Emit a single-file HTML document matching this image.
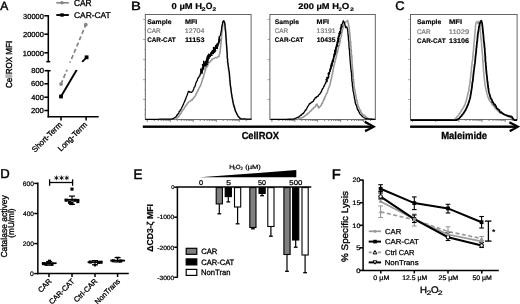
<!DOCTYPE html><html><head><meta charset="utf-8"><style>html,body{margin:0;padding:0;background:#fff;}svg{display:block;filter:blur(0.35px);}text{font-family:"Liberation Sans",sans-serif;text-rendering:geometricPrecision;}</style></head><body>
<svg width="520" height="304" viewBox="0 0 520 304">
<rect width="520" height="304" fill="#fff"/>
<text x="0.30" y="9.60" font-size="12.17" textLength="8.02" lengthAdjust="spacingAndGlyphs" fill="#000" stroke="#000" stroke-width="0.43826086956521737">A</text>
<line x1="56.3" y1="2.8" x2="68.8" y2="2.8" stroke="#858585" stroke-width="1.6"/><circle cx="62" cy="2.8" r="1.7" fill="#858585"/>
<text x="73.98" y="6.00" font-size="9.00" textLength="17.71" lengthAdjust="spacingAndGlyphs" fill="#000" stroke="#000" stroke-width="0.32399999999999995">CAR</text>
<line x1="56.3" y1="15" x2="68.8" y2="15" stroke="#000" stroke-width="1.9"/><rect x="60.3" y="13.3" width="3.4" height="3.4" fill="#000"/>
<text x="73.98" y="17.90" font-size="8.29" textLength="36.79" lengthAdjust="spacingAndGlyphs" fill="#000" stroke="#000" stroke-width="0.2982857142857142">CAR-CAT</text>
<g stroke="#000" stroke-width="1.55" fill="none">
<line x1="48.3" y1="15.1" x2="48.3" y2="61.7"/><line x1="46.3" y1="61.7" x2="50.3" y2="61.7"/>
<line x1="48.3" y1="70.7" x2="48.3" y2="117.5"/><line x1="44.6" y1="70.7" x2="50.6" y2="70.7"/>
<line x1="47.6" y1="116.8" x2="98.7" y2="116.8"/>
<line x1="44.3" y1="15.75" x2="48.3" y2="15.75"/>
<line x1="44.3" y1="34.2" x2="48.3" y2="34.2"/>
<line x1="44.3" y1="52.8" x2="48.3" y2="52.8"/>
<line x1="44.3" y1="83.8" x2="48.3" y2="83.8"/>
<line x1="44.3" y1="97.2" x2="48.3" y2="97.2"/>
<line x1="44.3" y1="110.5" x2="48.3" y2="110.5"/>
<line x1="61" y1="116.8" x2="61" y2="120.4"/><line x1="86.1" y1="116.8" x2="86.1" y2="120.4"/>
</g>
<text x="23.10" y="18.75" font-size="7.29" textLength="20.77" lengthAdjust="spacingAndGlyphs" fill="#000" stroke="#000" stroke-width="0.2622857142857143">30000</text>
<text x="23.03" y="37.20" font-size="7.29" textLength="20.84" lengthAdjust="spacingAndGlyphs" fill="#000" stroke="#000" stroke-width="0.26228571428571434">20000</text>
<text x="22.83" y="55.80" font-size="7.29" textLength="21.04" lengthAdjust="spacingAndGlyphs" fill="#000" stroke="#000" stroke-width="0.26228571428571434">10000</text>
<text x="31.16" y="73.30" font-size="7.29" textLength="12.74" lengthAdjust="spacingAndGlyphs" fill="#000" stroke="#000" stroke-width="0.262285714285714">800</text>
<text x="31.12" y="86.40" font-size="7.29" textLength="12.78" lengthAdjust="spacingAndGlyphs" fill="#000" stroke="#000" stroke-width="0.262285714285714">600</text>
<text x="31.35" y="99.80" font-size="7.29" textLength="12.54" lengthAdjust="spacingAndGlyphs" fill="#000" stroke="#000" stroke-width="0.262285714285714">400</text>
<text x="31.12" y="113.10" font-size="7.29" textLength="12.78" lengthAdjust="spacingAndGlyphs" fill="#000" stroke="#000" stroke-width="0.262285714285714">200</text>
<text transform="translate(11.70,87.60) rotate(-90)" x="-0.40" y="0" font-size="8.69" textLength="47.16" lengthAdjust="spacingAndGlyphs" fill="#000" stroke="#000" stroke-width="0.4">Ce<tspan fill="#9a9a9a" stroke="#9a9a9a">ll</tspan>ROX MFI</text>
<line x1="61" y1="84.1" x2="85.8" y2="24.7" stroke="#858585" stroke-width="1.7" stroke-dasharray="4.2,2.6"/>
<line x1="61" y1="96.4" x2="76.8" y2="69.8" stroke="#000" stroke-width="1.9"/><line x1="82.2" y1="61.8" x2="86.6" y2="57.4" stroke="#000" stroke-width="1.9"/>
<rect x="49.5" y="62.6" width="50" height="7.2" fill="#fff"/>
<circle cx="61" cy="84.1" r="1.9" fill="#858585"/><circle cx="85.8" cy="24.7" r="1.9" fill="#858585"/>
<rect x="59.1" y="94.6" width="3.8" height="3.8" fill="#000"/><rect x="84.7" y="55.4" width="3.8" height="3.8" fill="#000"/>
<text transform="translate(62.6,125.2) rotate(-45)" font-size="7.9" text-anchor="end" stroke="#000" stroke-width="0.3">Short-Term</text>
<text transform="translate(87.7,125.2) rotate(-45)" font-size="7.9" text-anchor="end" stroke="#000" stroke-width="0.3">Long-Term</text>
<rect x="145.3" y="14.5" width="105.79999999999998" height="105.1" fill="none" stroke="#555" stroke-width="0.9"/>
<line x1="143.10000000000002" y1="19.4" x2="145.3" y2="19.4" stroke="#777" stroke-width="0.7"/>
<line x1="143.10000000000002" y1="39.5" x2="145.3" y2="39.5" stroke="#777" stroke-width="0.7"/>
<line x1="143.10000000000002" y1="59.6" x2="145.3" y2="59.6" stroke="#777" stroke-width="0.7"/>
<line x1="143.10000000000002" y1="79.7" x2="145.3" y2="79.7" stroke="#777" stroke-width="0.7"/>
<line x1="143.10000000000002" y1="99.5" x2="145.3" y2="99.5" stroke="#777" stroke-width="0.7"/>
<line x1="144.10000000000002" y1="29.5" x2="145.3" y2="29.5" stroke="#999" stroke-width="0.6"/>
<line x1="144.10000000000002" y1="49.5" x2="145.3" y2="49.5" stroke="#999" stroke-width="0.6"/>
<line x1="144.10000000000002" y1="69.6" x2="145.3" y2="69.6" stroke="#999" stroke-width="0.6"/>
<line x1="144.10000000000002" y1="89.6" x2="145.3" y2="89.6" stroke="#999" stroke-width="0.6"/>
<line x1="144.10000000000002" y1="109.6" x2="145.3" y2="109.6" stroke="#999" stroke-width="0.6"/>
<line x1="144.10000000000002" y1="114.2" x2="145.3" y2="114.2" stroke="#999" stroke-width="0.6"/>
<line x1="147.3" y1="119.6" x2="147.3" y2="122.0" stroke="#555" stroke-width="0.7"/>
<line x1="154.2" y1="119.6" x2="154.2" y2="121.0" stroke="#555" stroke-width="0.7"/>
<line x1="158.3" y1="119.6" x2="158.3" y2="121.0" stroke="#555" stroke-width="0.7"/>
<line x1="161.1" y1="119.6" x2="161.1" y2="121.0" stroke="#555" stroke-width="0.7"/>
<line x1="163.4" y1="119.6" x2="163.4" y2="121.0" stroke="#555" stroke-width="0.7"/>
<line x1="165.2" y1="119.6" x2="165.2" y2="121.0" stroke="#555" stroke-width="0.7"/>
<line x1="166.7" y1="119.6" x2="166.7" y2="121.0" stroke="#555" stroke-width="0.7"/>
<line x1="168.1" y1="119.6" x2="168.1" y2="121.0" stroke="#555" stroke-width="0.7"/>
<line x1="169.2" y1="119.6" x2="169.2" y2="121.0" stroke="#555" stroke-width="0.7"/>
<line x1="170.3" y1="119.6" x2="170.3" y2="122.0" stroke="#555" stroke-width="0.7"/>
<line x1="177.2" y1="119.6" x2="177.2" y2="121.0" stroke="#555" stroke-width="0.7"/>
<line x1="181.3" y1="119.6" x2="181.3" y2="121.0" stroke="#555" stroke-width="0.7"/>
<line x1="184.1" y1="119.6" x2="184.1" y2="121.0" stroke="#555" stroke-width="0.7"/>
<line x1="186.4" y1="119.6" x2="186.4" y2="121.0" stroke="#555" stroke-width="0.7"/>
<line x1="188.2" y1="119.6" x2="188.2" y2="121.0" stroke="#555" stroke-width="0.7"/>
<line x1="189.7" y1="119.6" x2="189.7" y2="121.0" stroke="#555" stroke-width="0.7"/>
<line x1="191.1" y1="119.6" x2="191.1" y2="121.0" stroke="#555" stroke-width="0.7"/>
<line x1="192.2" y1="119.6" x2="192.2" y2="121.0" stroke="#555" stroke-width="0.7"/>
<line x1="193.3" y1="119.6" x2="193.3" y2="122.0" stroke="#555" stroke-width="0.7"/>
<line x1="200.2" y1="119.6" x2="200.2" y2="121.0" stroke="#555" stroke-width="0.7"/>
<line x1="204.3" y1="119.6" x2="204.3" y2="121.0" stroke="#555" stroke-width="0.7"/>
<line x1="207.1" y1="119.6" x2="207.1" y2="121.0" stroke="#555" stroke-width="0.7"/>
<line x1="209.4" y1="119.6" x2="209.4" y2="121.0" stroke="#555" stroke-width="0.7"/>
<line x1="211.2" y1="119.6" x2="211.2" y2="121.0" stroke="#555" stroke-width="0.7"/>
<line x1="212.7" y1="119.6" x2="212.7" y2="121.0" stroke="#555" stroke-width="0.7"/>
<line x1="214.1" y1="119.6" x2="214.1" y2="121.0" stroke="#555" stroke-width="0.7"/>
<line x1="215.2" y1="119.6" x2="215.2" y2="121.0" stroke="#555" stroke-width="0.7"/>
<line x1="216.3" y1="119.6" x2="216.3" y2="122.0" stroke="#555" stroke-width="0.7"/>
<line x1="223.2" y1="119.6" x2="223.2" y2="121.0" stroke="#555" stroke-width="0.7"/>
<line x1="227.3" y1="119.6" x2="227.3" y2="121.0" stroke="#555" stroke-width="0.7"/>
<line x1="230.1" y1="119.6" x2="230.1" y2="121.0" stroke="#555" stroke-width="0.7"/>
<line x1="232.4" y1="119.6" x2="232.4" y2="121.0" stroke="#555" stroke-width="0.7"/>
<line x1="234.2" y1="119.6" x2="234.2" y2="121.0" stroke="#555" stroke-width="0.7"/>
<line x1="235.7" y1="119.6" x2="235.7" y2="121.0" stroke="#555" stroke-width="0.7"/>
<line x1="237.1" y1="119.6" x2="237.1" y2="121.0" stroke="#555" stroke-width="0.7"/>
<line x1="238.2" y1="119.6" x2="238.2" y2="121.0" stroke="#555" stroke-width="0.7"/>
<line x1="239.3" y1="119.6" x2="239.3" y2="122.0" stroke="#555" stroke-width="0.7"/>
<line x1="246.2" y1="119.6" x2="246.2" y2="121.0" stroke="#555" stroke-width="0.7"/>
<rect x="269.9" y="14.5" width="105.40000000000003" height="105.1" fill="none" stroke="#555" stroke-width="0.9"/>
<line x1="267.7" y1="19.4" x2="269.9" y2="19.4" stroke="#777" stroke-width="0.7"/>
<line x1="267.7" y1="39.5" x2="269.9" y2="39.5" stroke="#777" stroke-width="0.7"/>
<line x1="267.7" y1="59.6" x2="269.9" y2="59.6" stroke="#777" stroke-width="0.7"/>
<line x1="267.7" y1="79.7" x2="269.9" y2="79.7" stroke="#777" stroke-width="0.7"/>
<line x1="267.7" y1="99.5" x2="269.9" y2="99.5" stroke="#777" stroke-width="0.7"/>
<line x1="268.7" y1="29.5" x2="269.9" y2="29.5" stroke="#999" stroke-width="0.6"/>
<line x1="268.7" y1="49.5" x2="269.9" y2="49.5" stroke="#999" stroke-width="0.6"/>
<line x1="268.7" y1="69.6" x2="269.9" y2="69.6" stroke="#999" stroke-width="0.6"/>
<line x1="268.7" y1="89.6" x2="269.9" y2="89.6" stroke="#999" stroke-width="0.6"/>
<line x1="268.7" y1="109.6" x2="269.9" y2="109.6" stroke="#999" stroke-width="0.6"/>
<line x1="268.7" y1="114.2" x2="269.9" y2="114.2" stroke="#999" stroke-width="0.6"/>
<line x1="271.9" y1="119.6" x2="271.9" y2="122.0" stroke="#555" stroke-width="0.7"/>
<line x1="278.8" y1="119.6" x2="278.8" y2="121.0" stroke="#555" stroke-width="0.7"/>
<line x1="282.8" y1="119.6" x2="282.8" y2="121.0" stroke="#555" stroke-width="0.7"/>
<line x1="285.7" y1="119.6" x2="285.7" y2="121.0" stroke="#555" stroke-width="0.7"/>
<line x1="287.9" y1="119.6" x2="287.9" y2="121.0" stroke="#555" stroke-width="0.7"/>
<line x1="289.7" y1="119.6" x2="289.7" y2="121.0" stroke="#555" stroke-width="0.7"/>
<line x1="291.3" y1="119.6" x2="291.3" y2="121.0" stroke="#555" stroke-width="0.7"/>
<line x1="292.6" y1="119.6" x2="292.6" y2="121.0" stroke="#555" stroke-width="0.7"/>
<line x1="293.8" y1="119.6" x2="293.8" y2="121.0" stroke="#555" stroke-width="0.7"/>
<line x1="294.8" y1="119.6" x2="294.8" y2="122.0" stroke="#555" stroke-width="0.7"/>
<line x1="301.7" y1="119.6" x2="301.7" y2="121.0" stroke="#555" stroke-width="0.7"/>
<line x1="305.7" y1="119.6" x2="305.7" y2="121.0" stroke="#555" stroke-width="0.7"/>
<line x1="308.6" y1="119.6" x2="308.6" y2="121.0" stroke="#555" stroke-width="0.7"/>
<line x1="310.8" y1="119.6" x2="310.8" y2="121.0" stroke="#555" stroke-width="0.7"/>
<line x1="312.6" y1="119.6" x2="312.6" y2="121.0" stroke="#555" stroke-width="0.7"/>
<line x1="314.2" y1="119.6" x2="314.2" y2="121.0" stroke="#555" stroke-width="0.7"/>
<line x1="315.5" y1="119.6" x2="315.5" y2="121.0" stroke="#555" stroke-width="0.7"/>
<line x1="316.7" y1="119.6" x2="316.7" y2="121.0" stroke="#555" stroke-width="0.7"/>
<line x1="317.7" y1="119.6" x2="317.7" y2="122.0" stroke="#555" stroke-width="0.7"/>
<line x1="324.6" y1="119.6" x2="324.6" y2="121.0" stroke="#555" stroke-width="0.7"/>
<line x1="328.7" y1="119.6" x2="328.7" y2="121.0" stroke="#555" stroke-width="0.7"/>
<line x1="331.5" y1="119.6" x2="331.5" y2="121.0" stroke="#555" stroke-width="0.7"/>
<line x1="333.7" y1="119.6" x2="333.7" y2="121.0" stroke="#555" stroke-width="0.7"/>
<line x1="335.6" y1="119.6" x2="335.6" y2="121.0" stroke="#555" stroke-width="0.7"/>
<line x1="337.1" y1="119.6" x2="337.1" y2="121.0" stroke="#555" stroke-width="0.7"/>
<line x1="338.4" y1="119.6" x2="338.4" y2="121.0" stroke="#555" stroke-width="0.7"/>
<line x1="339.6" y1="119.6" x2="339.6" y2="121.0" stroke="#555" stroke-width="0.7"/>
<line x1="340.6" y1="119.6" x2="340.6" y2="122.0" stroke="#555" stroke-width="0.7"/>
<line x1="347.5" y1="119.6" x2="347.5" y2="121.0" stroke="#555" stroke-width="0.7"/>
<line x1="351.6" y1="119.6" x2="351.6" y2="121.0" stroke="#555" stroke-width="0.7"/>
<line x1="354.4" y1="119.6" x2="354.4" y2="121.0" stroke="#555" stroke-width="0.7"/>
<line x1="356.7" y1="119.6" x2="356.7" y2="121.0" stroke="#555" stroke-width="0.7"/>
<line x1="358.5" y1="119.6" x2="358.5" y2="121.0" stroke="#555" stroke-width="0.7"/>
<line x1="360.0" y1="119.6" x2="360.0" y2="121.0" stroke="#555" stroke-width="0.7"/>
<line x1="361.3" y1="119.6" x2="361.3" y2="121.0" stroke="#555" stroke-width="0.7"/>
<line x1="362.5" y1="119.6" x2="362.5" y2="121.0" stroke="#555" stroke-width="0.7"/>
<line x1="363.6" y1="119.6" x2="363.6" y2="122.0" stroke="#555" stroke-width="0.7"/>
<line x1="370.4" y1="119.6" x2="370.4" y2="121.0" stroke="#555" stroke-width="0.7"/>
<rect x="410.5" y="14.5" width="106.60000000000002" height="105.1" fill="none" stroke="#555" stroke-width="0.9"/>
<line x1="408.3" y1="19.4" x2="410.5" y2="19.4" stroke="#777" stroke-width="0.7"/>
<line x1="408.3" y1="39.5" x2="410.5" y2="39.5" stroke="#777" stroke-width="0.7"/>
<line x1="408.3" y1="59.6" x2="410.5" y2="59.6" stroke="#777" stroke-width="0.7"/>
<line x1="408.3" y1="79.7" x2="410.5" y2="79.7" stroke="#777" stroke-width="0.7"/>
<line x1="408.3" y1="99.5" x2="410.5" y2="99.5" stroke="#777" stroke-width="0.7"/>
<line x1="409.3" y1="29.5" x2="410.5" y2="29.5" stroke="#999" stroke-width="0.6"/>
<line x1="409.3" y1="49.5" x2="410.5" y2="49.5" stroke="#999" stroke-width="0.6"/>
<line x1="409.3" y1="69.6" x2="410.5" y2="69.6" stroke="#999" stroke-width="0.6"/>
<line x1="409.3" y1="89.6" x2="410.5" y2="89.6" stroke="#999" stroke-width="0.6"/>
<line x1="409.3" y1="109.6" x2="410.5" y2="109.6" stroke="#999" stroke-width="0.6"/>
<line x1="409.3" y1="114.2" x2="410.5" y2="114.2" stroke="#999" stroke-width="0.6"/>
<line x1="412.5" y1="119.6" x2="412.5" y2="122.0" stroke="#555" stroke-width="0.7"/>
<line x1="419.5" y1="119.6" x2="419.5" y2="121.0" stroke="#555" stroke-width="0.7"/>
<line x1="423.6" y1="119.6" x2="423.6" y2="121.0" stroke="#555" stroke-width="0.7"/>
<line x1="426.5" y1="119.6" x2="426.5" y2="121.0" stroke="#555" stroke-width="0.7"/>
<line x1="428.7" y1="119.6" x2="428.7" y2="121.0" stroke="#555" stroke-width="0.7"/>
<line x1="430.5" y1="119.6" x2="430.5" y2="121.0" stroke="#555" stroke-width="0.7"/>
<line x1="432.1" y1="119.6" x2="432.1" y2="121.0" stroke="#555" stroke-width="0.7"/>
<line x1="433.4" y1="119.6" x2="433.4" y2="121.0" stroke="#555" stroke-width="0.7"/>
<line x1="434.6" y1="119.6" x2="434.6" y2="121.0" stroke="#555" stroke-width="0.7"/>
<line x1="435.7" y1="119.6" x2="435.7" y2="122.0" stroke="#555" stroke-width="0.7"/>
<line x1="442.6" y1="119.6" x2="442.6" y2="121.0" stroke="#555" stroke-width="0.7"/>
<line x1="446.7" y1="119.6" x2="446.7" y2="121.0" stroke="#555" stroke-width="0.7"/>
<line x1="449.6" y1="119.6" x2="449.6" y2="121.0" stroke="#555" stroke-width="0.7"/>
<line x1="451.9" y1="119.6" x2="451.9" y2="121.0" stroke="#555" stroke-width="0.7"/>
<line x1="453.7" y1="119.6" x2="453.7" y2="121.0" stroke="#555" stroke-width="0.7"/>
<line x1="455.3" y1="119.6" x2="455.3" y2="121.0" stroke="#555" stroke-width="0.7"/>
<line x1="456.6" y1="119.6" x2="456.6" y2="121.0" stroke="#555" stroke-width="0.7"/>
<line x1="457.8" y1="119.6" x2="457.8" y2="121.0" stroke="#555" stroke-width="0.7"/>
<line x1="458.8" y1="119.6" x2="458.8" y2="122.0" stroke="#555" stroke-width="0.7"/>
<line x1="465.8" y1="119.6" x2="465.8" y2="121.0" stroke="#555" stroke-width="0.7"/>
<line x1="469.9" y1="119.6" x2="469.9" y2="121.0" stroke="#555" stroke-width="0.7"/>
<line x1="472.8" y1="119.6" x2="472.8" y2="121.0" stroke="#555" stroke-width="0.7"/>
<line x1="475.0" y1="119.6" x2="475.0" y2="121.0" stroke="#555" stroke-width="0.7"/>
<line x1="476.9" y1="119.6" x2="476.9" y2="121.0" stroke="#555" stroke-width="0.7"/>
<line x1="478.4" y1="119.6" x2="478.4" y2="121.0" stroke="#555" stroke-width="0.7"/>
<line x1="479.8" y1="119.6" x2="479.8" y2="121.0" stroke="#555" stroke-width="0.7"/>
<line x1="481.0" y1="119.6" x2="481.0" y2="121.0" stroke="#555" stroke-width="0.7"/>
<line x1="482.0" y1="119.6" x2="482.0" y2="122.0" stroke="#555" stroke-width="0.7"/>
<line x1="489.0" y1="119.6" x2="489.0" y2="121.0" stroke="#555" stroke-width="0.7"/>
<line x1="493.1" y1="119.6" x2="493.1" y2="121.0" stroke="#555" stroke-width="0.7"/>
<line x1="496.0" y1="119.6" x2="496.0" y2="121.0" stroke="#555" stroke-width="0.7"/>
<line x1="498.2" y1="119.6" x2="498.2" y2="121.0" stroke="#555" stroke-width="0.7"/>
<line x1="500.1" y1="119.6" x2="500.1" y2="121.0" stroke="#555" stroke-width="0.7"/>
<line x1="501.6" y1="119.6" x2="501.6" y2="121.0" stroke="#555" stroke-width="0.7"/>
<line x1="502.9" y1="119.6" x2="502.9" y2="121.0" stroke="#555" stroke-width="0.7"/>
<line x1="504.1" y1="119.6" x2="504.1" y2="121.0" stroke="#555" stroke-width="0.7"/>
<line x1="505.2" y1="119.6" x2="505.2" y2="122.0" stroke="#555" stroke-width="0.7"/>
<line x1="512.2" y1="119.6" x2="512.2" y2="121.0" stroke="#555" stroke-width="0.7"/>
<text x="131.12" y="9.90" font-size="12.03" textLength="9.85" lengthAdjust="spacingAndGlyphs" fill="#000" stroke="#000" stroke-width="0.4330434782608696">B</text>
<text x="395.15" y="9.90" font-size="12.61" textLength="9.33" lengthAdjust="spacingAndGlyphs" fill="#000" stroke="#000" stroke-width="0.45391304347826095">C</text>
<text x="171.62" y="8.55" font-size="8.50" textLength="30.52" lengthAdjust="spacingAndGlyphs" font-weight="bold" fill="#000" stroke="#000" stroke-width="0.18700000000000003">0 µM H</text>
<text x="201.54" y="10.60" font-size="5.29" textLength="4.06" lengthAdjust="spacingAndGlyphs" font-weight="bold" fill="#000" stroke="#000" stroke-width="0.11628571428571426">2</text>
<text x="205.85" y="8.70" font-size="9.13" textLength="6.71" lengthAdjust="spacingAndGlyphs" font-weight="bold" fill="#000" stroke="#000" stroke-width="0.2008695652173913">O</text>
<text x="212.57" y="10.90" font-size="5.29" textLength="3.71" lengthAdjust="spacingAndGlyphs" font-weight="bold" fill="#000" stroke="#000" stroke-width="0.1162857142857143">2</text>
<text x="298.37" y="8.65" font-size="8.21" textLength="40.54" lengthAdjust="spacingAndGlyphs" font-weight="bold" fill="#000" stroke="#000" stroke-width="0.18071428571428572">200 µM H</text>
<text x="338.54" y="11.10" font-size="5.14" textLength="3.30" lengthAdjust="spacingAndGlyphs" font-weight="bold" fill="#000" stroke="#000" stroke-width="0.11314285714285713">2</text>
<text x="341.71" y="8.80" font-size="8.70" textLength="7.50" lengthAdjust="spacingAndGlyphs" font-weight="bold" fill="#000" stroke="#000" stroke-width="0.19130434782608696">O</text>
<text x="350.05" y="11.30" font-size="5.14" textLength="3.94" lengthAdjust="spacingAndGlyphs" font-weight="bold" fill="#000" stroke="#000" stroke-width="0.11314285714285717">2</text>
<text x="147.19" y="23.80" font-size="6.67" textLength="24.36" lengthAdjust="spacingAndGlyphs" font-weight="bold" fill="#000" stroke="#000" stroke-width="0.14666666666666672">Sample</text>
<text x="184.93" y="23.80" font-size="6.67" textLength="12.34" lengthAdjust="spacingAndGlyphs" font-weight="bold" fill="#000" stroke="#000" stroke-width="0.14666666666666672">MFI</text>
<text x="147.07" y="33.20" font-size="6.67" textLength="13.73" lengthAdjust="spacingAndGlyphs" fill="#7c7c7c" stroke="#7c7c7c" stroke-width="0.2400000000000001">CAR</text>
<text x="184.87" y="33.20" font-size="6.67" textLength="19.54" lengthAdjust="spacingAndGlyphs" fill="#7c7c7c" stroke="#7c7c7c" stroke-width="0.2400000000000001">12704</text>
<text x="147.15" y="42.40" font-size="6.67" textLength="28.52" lengthAdjust="spacingAndGlyphs" font-weight="bold" fill="#000" stroke="#000" stroke-width="0.14666666666666672">CAR-CAT</text>
<text x="184.96" y="42.40" font-size="6.67" textLength="19.50" lengthAdjust="spacingAndGlyphs" font-weight="bold" fill="#000" stroke="#000" stroke-width="0.14666666666666672">11153</text>
<text x="274.80" y="23.80" font-size="6.67" textLength="24.16" lengthAdjust="spacingAndGlyphs" font-weight="bold" fill="#000" stroke="#000" stroke-width="0.14666666666666672">Sample</text>
<text x="316.63" y="23.80" font-size="6.67" textLength="12.45" lengthAdjust="spacingAndGlyphs" font-weight="bold" fill="#000" stroke="#000" stroke-width="0.14666666666666672">MFI</text>
<text x="274.68" y="33.20" font-size="6.67" textLength="13.52" lengthAdjust="spacingAndGlyphs" fill="#7c7c7c" stroke="#7c7c7c" stroke-width="0.2400000000000001">CAR</text>
<text x="316.59" y="33.20" font-size="6.67" textLength="19.03" lengthAdjust="spacingAndGlyphs" fill="#7c7c7c" stroke="#7c7c7c" stroke-width="0.2400000000000001">13191</text>
<text x="274.74" y="42.40" font-size="6.67" textLength="28.62" lengthAdjust="spacingAndGlyphs" font-weight="bold" fill="#000" stroke="#000" stroke-width="0.14666666666666672">CAR-CAT</text>
<text x="316.69" y="42.40" font-size="6.67" textLength="18.78" lengthAdjust="spacingAndGlyphs" font-weight="bold" fill="#000" stroke="#000" stroke-width="0.14666666666666672">10435</text>
<text x="417.10" y="24.30" font-size="6.67" textLength="24.16" lengthAdjust="spacingAndGlyphs" font-weight="bold" fill="#000" stroke="#000" stroke-width="0.14666666666666672">Sample</text>
<text x="448.91" y="24.30" font-size="6.67" textLength="13.10" lengthAdjust="spacingAndGlyphs" font-weight="bold" fill="#000" stroke="#000" stroke-width="0.14666666666666672">MFI</text>
<text x="416.98" y="33.70" font-size="6.67" textLength="13.62" lengthAdjust="spacingAndGlyphs" fill="#7c7c7c" stroke="#7c7c7c" stroke-width="0.2400000000000001">CAR</text>
<text x="448.84" y="33.70" font-size="6.67" textLength="20.31" lengthAdjust="spacingAndGlyphs" fill="#7c7c7c" stroke="#7c7c7c" stroke-width="0.2400000000000001">11029</text>
<text x="417.04" y="42.90" font-size="6.67" textLength="28.62" lengthAdjust="spacingAndGlyphs" font-weight="bold" fill="#000" stroke="#000" stroke-width="0.14666666666666672">CAR-CAT</text>
<text x="448.97" y="42.90" font-size="6.67" textLength="20.09" lengthAdjust="spacingAndGlyphs" font-weight="bold" fill="#000" stroke="#000" stroke-width="0.14666666666666672">13106</text>
<polyline points="174.80,119.40 175.68,118.80 176.55,118.20 177.43,117.60 178.30,117.00 178.87,116.15 179.30,115.61 180.09,114.23 180.57,113.55 181.19,113.01 181.55,111.48 182.39,110.99 182.93,109.75 183.38,109.55 183.87,108.90 184.68,107.23 184.93,106.84 185.82,105.98 186.13,105.30 186.63,104.40 187.34,103.93 187.84,102.97 188.40,102.46 189.27,101.42 190.32,101.25 191.10,100.27 192.08,100.22 192.35,99.03 193.15,98.66 193.81,97.68 194.35,97.19 194.75,96.40 195.54,95.91 195.82,94.83 196.07,93.67 196.76,92.97 196.95,92.24 197.56,91.51 197.85,90.45 198.34,89.90 198.77,88.70 199.20,87.53 199.47,87.28 200.24,86.33 200.46,85.10 200.84,84.81 201.28,83.40 201.65,82.10 201.86,81.73 202.23,80.26 202.40,79.48 202.93,78.12 203.15,77.99 203.47,77.05 203.73,75.98 203.92,75.03 204.03,74.46 204.50,72.89 204.76,72.17 204.99,71.08 205.34,70.35 205.65,69.23 205.73,68.06 206.27,67.54 207.00,66.90 207.46,66.08 207.75,65.27 208.38,63.76 208.63,62.86 209.56,62.36 209.99,61.98 210.74,60.76 211.34,60.46 212.01,59.51 212.88,58.96 213.71,58.60 214.58,58.15 215.70,57.59 216.56,57.86 217.90,56.74 219.14,56.79 219.10,55.14 219.32,54.84 219.49,53.90 219.85,52.83 219.86,52.29 220.24,50.94 220.20,50.13 220.36,49.12 220.42,48.22 220.42,46.97 220.84,46.54 220.69,45.57 220.79,44.70 221.04,43.27 220.95,41.96 221.27,41.03 221.34,40.92 221.35,39.25 221.55,39.03 221.58,37.66 221.56,36.56 221.58,35.95 221.74,34.61 221.71,34.12 221.86,33.07 221.95,32.49 222.24,30.82 222.08,30.19 222.44,29.69 222.29,28.27 222.50,27.92 222.67,26.57 222.74,25.97 222.79,25.26 222.90,24.04 223.05,22.56 223.55,21.62 223.69,20.99 224.72,21.78 224.69,22.70 225.02,23.97 225.19,25.21 225.04,25.89 225.17,26.41 225.30,28.14 225.70,29.10 225.60,29.83 225.82,30.55 225.80,31.34 225.68,32.31 226.03,33.51 226.11,34.34 225.93,35.56 226.19,35.80 226.19,36.80 226.05,38.44 226.08,38.79 226.48,39.88 226.23,40.58 226.33,42.03 226.34,43.11 226.50,44.09 226.75,44.41 226.56,45.51 226.56,46.60 226.59,46.95 226.99,48.13 226.90,49.20 226.85,49.78 227.12,51.53 227.19,51.69 226.97,53.07 227.30,53.93 227.25,54.97 227.15,55.79 227.22,56.45 227.19,57.41 227.57,58.49 227.50,59.60 227.66,60.30 227.55,61.18 227.66,62.57 227.99,63.01 227.90,64.16 228.11,65.14 228.10,65.55 228.22,66.53 228.44,67.46 228.39,68.90 228.58,69.97 228.77,70.96 228.76,71.57 229.11,72.12 229.25,73.17 229.28,74.86 229.39,75.22 229.23,76.36 229.61,77.12 229.70,77.95 229.79,78.81 229.67,80.56 229.94,81.52 230.05,82.34 230.08,82.79 230.08,83.73 230.28,85.15 230.24,85.52 230.63,87.11 230.62,87.79 230.86,88.62 230.83,89.44 230.91,90.07 231.19,91.34 231.29,91.94 231.35,92.92 231.40,93.95 231.79,94.99 231.76,96.10 231.88,96.46 232.17,97.80 232.39,98.64 232.59,99.81 232.61,100.50 232.87,101.15 233.03,102.35 233.39,103.58 233.34,104.23 233.44,104.61 233.90,106.28 234.08,107.13 234.64,107.66 234.87,109.09 235.05,109.90 235.49,110.74 235.83,111.96 236.28,112.46 236.42,112.98 236.85,114.06 237.46,114.40 237.85,115.80 238.20,116.40 238.90,117.05 239.60,117.70 240.30,118.35 241.00,119.00" fill="none" stroke="#999" stroke-width="1.6" stroke-linejoin="round"/>
<polyline points="145.50,119.30 145.95,119.30 146.41,119.30 146.86,119.29 147.31,119.29 147.77,119.29 148.22,119.29 148.68,119.29 149.13,119.29 149.58,119.28 150.04,119.28 150.49,119.28 150.94,119.28 151.40,119.28 151.85,119.27 152.31,119.27 152.76,119.27 153.21,119.27 153.67,119.27 154.12,119.26 154.57,119.26 155.03,119.26 155.48,119.26 155.94,119.26 156.39,119.26 156.84,119.25 157.30,119.25 157.75,119.25 158.20,119.25 158.66,119.25 159.11,119.24 159.56,119.24 160.02,119.24 160.47,119.24 160.93,119.24 161.38,119.24 161.83,119.23 162.29,119.23 162.74,119.23 163.19,119.23 163.65,119.23 164.10,119.22 164.56,119.22 165.01,119.22 165.46,119.22 165.92,119.22 166.37,119.21 166.82,119.21 167.28,119.21 167.73,119.21 168.19,119.21 168.64,119.21 169.09,119.20 169.55,119.20 170.00,119.20 170.52,119.12 171.03,119.03 171.55,118.95 172.07,118.87 172.58,118.78 173.10,118.70 173.53,118.42 173.97,118.13 174.40,117.85 174.83,117.57 175.27,117.28 175.70,117.00 175.99,116.62 176.28,116.24 176.71,116.22 176.71,115.16 177.25,115.30 177.49,114.58 177.76,114.44 178.04,113.70 178.28,113.51 178.60,113.60 178.90,112.85 178.96,112.24 179.06,111.66 179.43,111.50 179.63,111.57 179.90,110.91 180.03,110.09 180.29,109.79 180.58,110.09 180.86,109.05 181.14,109.11 181.31,108.78 181.53,108.26 181.62,107.98 182.03,106.90 182.18,106.92 182.30,106.35 182.53,106.24 182.75,105.74 182.92,105.36 183.31,104.59 183.42,104.54 183.65,103.76 183.67,103.20 184.00,102.65 184.24,102.30 184.42,101.90 184.62,101.79 184.65,101.21 184.88,100.84 184.95,100.11 185.19,100.26 185.40,99.15 185.65,99.24 185.85,98.38 185.98,97.85 186.13,97.59 186.17,97.64 186.31,96.93 186.73,96.28 186.71,96.35 186.96,95.79 187.01,95.08 187.24,94.90 187.39,94.69 187.55,94.08 187.71,93.20 188.12,92.63 188.08,92.55 188.30,91.53 188.66,91.12 188.80,91.53 189.44,92.09 189.84,91.87 190.38,92.06 191.19,92.39 191.65,92.20 192.07,91.96 192.37,91.38 192.85,91.25 192.84,90.93 193.26,90.24 193.34,90.02 193.48,89.40 193.80,89.06 193.85,88.76 193.84,88.44 194.04,87.61 194.18,87.26 194.37,87.21 194.67,87.06 194.98,86.64 194.92,85.77 195.10,85.45 195.39,85.19 195.59,84.33 195.67,84.11 195.70,83.29 196.00,82.92 196.27,82.59 196.24,82.12 196.45,81.71 196.72,81.48 196.82,81.19 196.96,80.98 197.37,80.40 197.37,79.80 197.59,79.00 197.70,78.95 197.80,78.18 198.28,77.98 198.47,78.00 198.79,77.08 199.19,76.73 199.16,76.56 199.47,75.84 199.92,75.71 199.87,75.11 200.21,74.71 200.36,74.37 200.53,73.70 200.83,73.80 200.07,74.55 200.56,73.03 201.15,71.93 202.13,71.07 200.73,68.98 200.74,72.90 202.20,73.11 202.44,67.05 202.47,71.11 202.74,68.99 201.97,68.29 203.15,66.71 202.61,67.52 203.76,69.03 203.82,68.77 202.41,64.69 203.12,64.48 203.23,66.62 204.65,65.69 204.66,62.38 203.80,67.41 203.55,63.55 203.61,61.19 205.85,66.23 205.59,61.40 205.08,62.36 206.31,65.39 205.88,63.98 205.22,63.63 207.36,64.45 205.44,62.56 207.05,60.54 207.61,61.31 207.27,60.50 208.10,62.32 207.22,58.03 207.03,56.88 207.52,61.53 206.65,58.84 207.50,57.75 208.18,60.48 208.29,57.23 209.16,56.01 208.89,57.60 209.18,58.39 208.14,56.63 208.82,56.53 210.45,55.96 208.38,54.56 210.31,56.70 210.49,55.98 209.31,56.43 211.35,54.09 212.11,55.44 210.51,54.71 212.44,50.70 212.86,52.77 212.01,53.83 212.36,52.42 213.54,50.02 214.11,50.93 213.49,53.55 213.42,47.39 214.67,52.02 215.33,51.15 215.16,50.30 215.05,47.48 215.71,45.67 214.91,49.59 215.36,49.13 217.05,46.63 217.01,48.49 217.68,44.14 216.22,45.19 217.17,44.24 216.30,45.38 218.82,43.80 217.92,43.45 217.83,45.93 217.64,44.16 218.19,43.05 219.36,39.84 219.28,40.76 218.98,43.26 219.13,40.40 219.72,38.16 219.35,39.49 219.23,41.79 219.99,39.99 218.95,37.16 219.43,36.69 219.13,40.59 218.86,39.29 219.62,36.11 219.98,36.12 220.15,35.73 220.27,35.37 220.55,35.42 220.53,34.73 220.81,34.02 220.67,33.49 220.77,33.38 220.89,32.66 221.09,32.11 221.17,31.97 221.10,31.66 221.15,31.24 221.40,30.48 221.39,30.38 221.48,29.76 221.58,29.45 221.61,29.02 221.53,28.28 221.72,27.61 221.70,27.00 221.95,26.68 221.88,26.67 221.88,26.28 221.95,25.09 222.12,24.91 222.39,24.88 222.43,24.08 222.45,23.47 222.63,23.15 222.55,22.90 222.60,22.20 222.94,21.58 223.02,21.33 223.39,21.17 223.72,20.77 223.86,21.12 224.12,21.63 224.19,22.40 224.23,22.33 224.63,22.99 224.75,23.18 224.81,24.18 224.79,24.56 224.92,24.72 225.08,25.16 224.96,25.80 224.95,26.42 225.08,26.67 225.10,27.44 225.29,27.77 225.16,27.88 225.22,28.04 225.13,29.25 225.18,29.65 225.40,30.08 225.25,30.04 225.52,30.26 225.34,30.98 225.40,31.27 225.60,31.67 225.74,32.57 225.49,33.22 225.59,33.34 225.74,33.51 225.76,33.90 225.70,35.03 225.94,35.18 225.92,35.92 225.78,36.07 225.82,36.23 225.84,36.77 225.86,37.23 225.99,38.02 226.18,38.70 226.17,38.85 226.27,39.03 226.04,40.01 226.24,39.99 226.19,40.52 226.24,41.08 226.27,41.84 226.43,42.11 226.36,42.35 226.48,43.37 226.35,43.60 226.53,44.03 226.35,44.40 226.44,44.58 226.59,45.40 226.64,45.93 226.70,46.18 226.52,46.88 226.80,47.39 226.76,47.21 226.67,47.73 226.84,48.54 226.73,49.32 227.01,49.74 226.88,49.71 226.83,50.60 227.01,50.62 227.11,51.32 226.98,51.65 227.11,52.14 227.12,52.34 227.16,52.92 227.26,53.33 227.11,54.05 227.16,54.50 227.36,54.70 227.34,55.55 227.37,55.82 227.30,56.20 227.33,56.58 227.27,57.22 227.30,57.68 227.45,58.01 227.35,58.70 227.61,58.86 227.56,59.67 227.67,60.15 227.52,60.23 227.72,60.76 227.48,61.68 227.57,61.69 227.64,62.10 227.84,62.62 227.83,63.14 228.02,63.26 228.02,63.81 227.95,64.64 228.10,64.65 228.24,65.78 228.33,65.90 228.45,66.68 228.32,66.64 228.65,67.59 228.48,67.86 228.77,68.22 228.78,68.62 228.71,68.82 228.72,69.63 228.82,70.05 228.97,70.35 229.23,70.76 229.15,71.20 229.14,71.53 229.31,72.45 229.21,73.01 229.43,72.75 229.48,73.49 229.45,73.70 229.49,74.49 229.61,75.00 229.62,75.58 229.51,75.46 229.63,76.00 229.56,76.61 229.72,77.30 229.79,78.02 229.65,78.17 229.69,78.71 229.84,78.75 229.83,79.62 229.92,80.30 229.92,80.27 230.14,80.94 229.91,81.54 230.03,82.12 230.16,82.47 230.28,82.69 230.34,82.75 230.17,83.86 230.11,84.18 230.46,84.67 230.48,84.63 230.44,85.51 230.47,85.83 230.65,86.08 230.47,86.89 230.83,87.54 230.80,87.58 230.94,87.84 230.79,88.90 231.06,89.06 231.13,89.29 231.09,89.72 231.04,90.28 231.03,90.92 231.25,91.28 231.37,91.56 231.39,92.40 231.41,93.18 231.39,93.25 231.56,93.67 231.79,94.29 231.71,94.65 231.76,95.52 231.97,95.74 231.85,96.16 231.92,96.42 231.97,97.16 232.36,97.57 232.32,97.72 232.36,98.35 232.44,98.66 232.46,99.50 232.78,100.02 232.76,99.84 232.74,100.95 233.04,101.18 233.00,101.75 232.98,102.23 233.10,102.80 233.22,103.11 233.33,103.47 233.39,104.26 233.61,104.28 233.65,105.11 233.85,105.35 234.05,105.37 234.06,106.22 234.14,106.93 234.42,106.92 234.44,107.66 234.59,107.78 234.75,108.22 234.66,108.91 234.95,109.15 235.02,110.06 235.25,110.04 235.41,110.61 235.37,111.12 235.70,111.74 235.87,111.98 235.99,111.91 236.22,112.39 236.58,113.01 236.68,113.74 236.76,114.24 237.01,114.06 237.31,114.75 237.62,115.21 237.56,115.29 237.90,116.10 238.22,116.44 238.55,116.77 238.88,117.11 239.20,117.45 239.53,117.79 239.85,118.12 240.18,118.46 240.50,118.80 240.96,118.82 241.43,118.83 241.89,118.85 242.35,118.87 242.81,118.88 243.28,118.90 243.74,118.92 244.20,118.93 244.66,118.95 245.12,118.97 245.59,118.98 246.05,119.00 246.51,119.02 246.97,119.03 247.44,119.05 247.90,119.07 248.36,119.08 248.82,119.10 249.29,119.12 249.75,119.13 250.21,119.15 250.67,119.17 251.14,119.18 251.60,119.20" fill="none" stroke="#000" stroke-width="1.25" stroke-linejoin="round"/>
<polyline points="202.90,66.30 203.15,66.50 203.74,64.01 202.97,64.51 203.68,65.83 204.63,64.56 204.71,64.37 204.33,63.06 204.86,65.42 205.19,65.58 205.36,64.55 205.91,62.93 206.85,60.90 205.74,63.99 206.59,60.20 207.49,63.13 206.23,60.54 206.40,59.61 207.32,58.52 207.57,57.58 206.87,60.14 207.37,58.06 207.82,57.80 207.62,55.52 208.45,58.84 209.13,57.20 208.43,55.57 209.25,56.38 208.61,54.20 209.30,54.87 210.30,54.40 209.45,55.31 210.49,53.72 210.56,52.97 211.22,53.97 211.16,52.70 211.76,53.03 212.01,51.11 212.98,52.30 212.98,51.34 213.52,50.20 214.23,52.48 214.53,52.04 214.31,51.48 214.91,48.11 215.81,50.58 214.91,47.57 216.38,47.38 215.79,45.56 215.71,47.51 217.47,48.54 216.96,44.16 216.92,46.72 217.98,45.65 217.27,44.71 217.81,44.61 217.62,45.39 218.78,41.75 217.97,44.09 218.10,43.88 218.62,42.38 219.08,39.96 218.90,40.60" fill="none" stroke="#000" stroke-width="1.2" stroke-linejoin="round"/>
<polyline points="329.90,71.20 329.79,71.17 330.38,71.09 330.00,68.98 330.10,68.46 330.86,67.70 330.79,67.41 330.69,67.47 331.39,67.42 330.68,66.05 330.96,67.09 331.79,66.42 331.95,65.75 332.22,65.37 331.65,65.01 332.03,64.23 332.25,62.86 332.19,62.33 332.28,60.99 332.95,62.23 333.26,61.42 332.96,61.05 332.66,60.37 333.13,58.57 333.02,58.98 333.21,58.32 333.72,57.66 333.37,57.42 333.62,56.26 333.73,56.11 333.74,56.36 334.80,55.18 334.70,56.10 334.14,53.55 335.08,54.87 335.04,52.62 334.91,53.96 335.50,53.29 334.89,52.92 335.17,52.06 335.02,52.23 335.61,51.08 335.30,50.30 335.78,49.74 335.65,49.59 335.73,47.97 335.71,48.49 335.82,46.81 335.94,47.41 336.61,46.66 336.23,45.91 336.71,44.52 336.52,46.38 336.81,44.08 337.06,44.36 336.96,43.54 337.36,43.99 337.09,42.20 337.70,43.36 337.82,41.58 338.08,40.63 337.51,40.67 338.53,40.79 337.95,40.16 338.66,38.56 338.49,38.32 338.26,37.65 338.34,37.32 338.29,36.95 338.47,37.40 339.13,34.94 339.43,34.93 339.25,35.39 339.23,34.20 339.46,33.31 340.03,32.75 340.11,32.54 339.70,32.48 339.54,31.31 340.01,31.64 340.67,32.57 340.40,30.80" fill="none" stroke="#000" stroke-width="1.1" stroke-linejoin="round"/>
<polyline points="297.20,119.40 298.09,119.07 298.97,118.74 299.86,118.41 300.74,118.09 301.63,117.76 302.51,117.43 303.40,117.10 304.20,116.50 304.91,115.94 305.75,115.39 306.65,114.31 307.22,114.40 308.00,113.18 308.95,112.71 309.57,112.03 310.18,111.05 310.87,111.01 311.51,110.22 312.34,108.93 313.14,108.73 313.75,107.55 314.73,107.28 315.18,106.79 315.68,105.98 316.06,105.02 316.58,104.29 317.16,104.36 317.31,105.29 318.03,106.30 318.33,107.00 318.70,107.90 319.25,107.26 319.93,106.72 320.57,105.93 321.23,105.16 321.76,103.60 322.27,103.45 322.73,102.22 323.11,101.03 323.59,100.48 323.84,99.15 324.48,99.11 324.65,98.07 325.16,96.59 325.50,96.24 326.10,94.69 326.39,93.79 326.82,93.15 327.26,92.83 327.51,91.95 327.83,90.22 328.22,89.31 328.36,88.77 328.80,87.68 328.88,87.45 329.26,86.66 329.76,85.26 329.89,84.52 330.17,83.67 330.37,82.79 330.73,81.77 330.76,81.05 330.92,79.77 331.41,79.05 331.47,77.68 331.65,77.28 331.73,76.40 332.13,74.99 332.31,74.45 332.51,73.44 332.70,72.88 332.64,71.36 333.05,71.26 333.08,69.90 333.39,68.87 333.49,67.95 333.67,67.30 333.83,66.19 334.22,64.96 334.37,64.68 334.50,63.30 334.90,62.40 334.90,61.66 335.31,60.45 335.40,59.74 335.80,58.92 336.04,57.76 336.07,57.28 336.49,56.19 336.48,54.97 336.81,54.12 337.14,53.80 337.15,52.39 337.60,51.80 337.83,50.63 337.82,49.67 338.29,48.75 338.36,47.97 338.62,47.06 339.03,45.92 338.93,45.72 339.48,44.85 339.55,43.91 339.95,42.35 340.07,42.01 340.22,40.84 340.27,39.78 340.43,38.65 340.74,37.95 341.00,36.85 341.22,36.54 341.41,35.83 341.58,34.65 341.44,33.91 341.68,32.62 342.07,31.94 342.19,31.44 342.47,30.02 342.56,29.61 342.85,28.67 343.01,27.26 343.29,26.94 343.37,26.04 343.85,25.18 344.32,23.71 344.75,23.73 345.04,22.44 345.62,21.92 346.67,21.38 347.80,20.45 347.77,21.55 348.03,22.48 348.57,24.17 348.48,24.84 348.80,25.65 349.05,26.93 349.22,27.60 349.17,28.50 349.23,29.64 349.53,30.41 349.39,31.16 349.58,32.47 349.82,33.20 349.91,34.35 349.87,35.05 349.98,36.28 350.04,37.20 350.14,37.72 350.26,39.06 350.18,39.74 350.40,41.08 350.67,41.56 350.74,42.86 350.59,43.50 350.61,44.76 350.88,45.76 351.00,46.50 351.05,47.34 350.90,48.30 350.94,48.84 351.29,49.68 351.12,50.67 351.47,51.68 351.24,53.21 351.35,54.15 351.62,55.08 351.79,55.79 351.81,56.24 351.88,57.60 351.93,58.17 352.02,59.85 351.84,60.24 352.08,61.66 352.03,62.03 352.09,63.38 352.33,64.14 352.25,65.11 352.31,66.09 352.27,67.12 352.65,68.00 352.63,68.73 352.67,70.23 352.75,70.92 352.77,71.93 353.01,72.38 352.81,73.82 353.20,74.52 353.12,75.60 353.12,76.09 353.21,77.28 353.34,77.86 353.57,79.41 353.52,80.08 353.65,81.12 353.80,81.49 353.76,82.17 353.94,83.39 353.92,84.27 354.07,85.55 354.09,86.64 354.30,87.19 354.39,88.30 354.69,88.97 354.74,90.03 355.05,90.66 355.18,92.08 355.26,92.34 355.35,93.70 355.69,94.83 355.93,95.10 355.86,96.03 356.04,97.35 356.45,98.44 356.41,99.33 356.66,99.82 357.03,100.41 357.02,101.97 357.31,102.43 357.64,103.60 357.66,104.18 358.03,105.21 358.17,106.19 358.66,106.90 358.93,107.49 359.25,108.82 359.61,109.85 360.31,109.97 360.74,111.05 361.10,112.23 361.58,112.93 362.36,113.83 362.87,114.55 363.77,115.26 364.43,115.37 365.24,116.34 366.06,116.96 366.88,117.58 367.70,118.20 368.77,118.45 369.85,118.70 370.93,118.95 372.00,119.20" fill="none" stroke="#999" stroke-width="1.6" stroke-linejoin="round"/>
<polyline points="270.50,119.30 271.00,119.30 271.50,119.30 272.00,119.30 272.50,119.30 273.00,119.30 273.50,119.30 274.00,119.30 274.50,119.30 275.00,119.30 275.50,119.30 276.00,119.30 276.50,119.30 277.00,119.30 277.50,119.30 278.00,119.30 278.50,119.30 279.00,119.30 279.50,119.30 280.00,119.30 280.50,119.30 281.00,119.30 281.50,119.30 282.00,119.30 282.50,119.30 283.00,119.30 283.50,119.30 284.00,119.30 284.50,119.30 285.00,119.30 285.51,119.29 286.02,119.29 286.54,119.28 287.05,119.28 287.56,119.27 288.07,119.26 288.59,119.26 289.10,119.25 289.61,119.24 290.12,119.24 290.64,119.23 291.15,119.22 291.66,119.22 292.18,119.21 292.69,119.21 293.20,119.20 293.67,119.01 294.14,118.82 294.61,118.62 295.08,118.43 295.55,118.24 296.02,118.05 296.48,117.85 296.95,117.66 297.42,117.47 297.89,117.28 298.36,117.08 298.83,116.89 299.30,116.70 299.71,116.34 300.04,115.66 300.50,115.34 300.80,115.18 301.48,115.14 301.84,114.32 302.18,114.00 302.48,113.50 302.90,113.80 303.51,113.35 303.80,112.44 303.94,112.38 304.37,112.15 304.72,111.13 304.93,111.19 305.20,110.38 305.49,109.90 305.94,110.11 306.12,109.25 306.53,109.06 306.80,108.81 306.97,108.00 307.28,107.55 307.42,106.99 307.91,106.32 307.95,106.32 308.30,105.78 308.65,105.17 309.10,104.58 309.19,104.13 309.54,103.72 309.90,103.80 310.33,103.35 310.96,102.68 311.13,102.48 311.80,102.49 312.07,101.96 312.50,101.77 312.74,101.53 313.30,101.31 313.53,100.88 313.59,99.92 314.18,99.88 314.29,99.58 314.64,99.05 315.03,98.05 315.58,97.51 316.09,97.89 316.60,96.86 317.03,96.71 317.79,96.59 317.93,95.98 318.45,95.84 318.51,95.15 318.76,94.83 319.26,94.42 319.35,94.29 319.72,94.30 319.98,93.52 320.49,93.03 320.86,92.68 320.86,92.15 321.03,91.68 321.33,91.58 321.76,90.79 321.74,90.12 322.05,89.60 322.28,89.66 322.49,88.53 322.98,88.46 323.24,87.85 323.45,87.58 323.65,87.17 323.80,86.17 323.93,86.34 324.37,85.93 324.41,85.26 324.78,84.79 325.01,84.24 325.18,83.92 325.28,83.65 325.72,82.52 325.95,82.77 326.04,81.57 326.69,80.28 326.97,81.54 326.00,79.48 326.93,80.30 327.26,80.99 326.78,77.57 327.87,77.13 328.00,77.00 328.11,78.67 328.38,77.46 328.55,75.84 328.45,75.74 328.90,76.65 328.53,75.35 328.13,73.27 329.02,74.21 329.53,74.09 328.77,72.79 329.74,72.80 328.94,73.30 330.15,70.38 329.96,70.82 330.41,70.09 329.84,70.14 330.93,68.38 329.98,69.56 331.11,68.70 330.67,69.30 331.25,66.26 331.53,66.17 330.93,67.71 331.23,67.08 331.05,66.82 331.20,63.99 331.75,64.09 331.95,65.39 332.31,61.99 331.94,63.19 332.31,63.20 332.45,60.63 332.29,62.57 332.57,61.78 333.52,60.81 333.27,60.26 332.95,60.74 333.29,60.24 333.22,59.60 333.98,58.30 333.68,56.29 334.25,56.51 334.25,55.28 333.65,54.82 334.72,54.44 334.99,54.57 334.71,54.01 334.91,52.69 334.78,54.90 334.59,53.49 334.88,51.86 334.59,50.46 335.88,52.56 335.79,51.98 336.08,49.41 335.71,49.98 335.79,50.90 336.13,50.50 335.41,48.98 336.29,48.80 336.38,48.59 336.14,48.41 336.43,46.87 337.22,46.71 336.63,44.71 336.82,45.49 337.84,45.88 337.17,43.79 337.81,42.92 337.39,41.57 337.20,42.76 337.95,42.51 337.63,43.09 338.06,40.06 337.45,42.18 338.72,41.52 338.33,39.08 337.78,38.42 338.04,40.07 339.03,39.10 338.20,36.88 338.52,38.65 338.47,37.65 339.26,36.38 339.74,34.98 339.31,34.15 338.88,33.25 339.29,33.05 339.09,35.34 339.50,34.52 340.16,33.52 340.22,33.73 340.63,32.49 340.35,31.91 340.69,30.97 340.53,29.20 341.09,29.76 340.22,28.26 341.38,28.04 340.89,28.91 341.61,27.29 341.13,27.10 340.80,28.06 340.91,27.83 341.21,24.76 342.22,26.40 341.56,25.05 342.02,24.56 342.05,24.15 342.43,23.56 342.53,23.25 342.59,22.68 342.96,21.97 342.95,21.50 343.43,20.74 343.58,21.72 343.80,21.53 344.04,22.20 344.35,23.03 344.41,23.72 344.74,23.77 344.93,24.70 345.08,25.18 345.13,25.52 345.23,25.87 345.48,26.22 345.32,27.00 345.57,27.35 345.73,27.60 346.10,26.96 346.79,27.13 346.89,26.99 347.10,28.06 347.08,27.90 347.31,28.90 347.36,28.91 347.52,29.43 347.57,30.02 347.66,31.11 347.83,31.57 347.74,31.74 347.89,31.97 347.88,33.24 348.04,33.67 347.95,34.05 348.16,34.57 348.10,34.67 348.02,35.75 348.36,35.78 348.36,36.40 348.37,37.26 348.33,37.60 348.36,38.03 348.34,38.35 348.47,39.38 348.48,39.78 348.52,40.47 348.59,40.27 348.64,41.46 348.83,41.93 348.81,41.82 348.80,42.61 349.04,42.89 348.84,43.94 348.84,44.55 348.93,44.74 349.08,45.53 348.93,45.99 349.00,46.40 348.99,46.95 349.08,47.01 349.07,47.62 349.20,48.65 349.33,48.67 349.49,49.03 349.28,50.16 349.55,50.46 349.59,50.47 349.61,51.50 349.57,52.12 349.43,52.12 349.47,52.85 349.64,53.41 349.62,54.08 349.81,54.61 349.59,54.64 349.69,55.23 349.84,55.71 349.90,56.34 349.85,57.15 350.08,57.26 349.93,58.41 349.92,58.16 349.95,59.32 350.17,59.92 350.13,59.72 350.11,60.78 350.17,60.84 350.21,61.61 350.24,62.12 350.21,62.30 350.46,63.38 350.38,63.40 350.38,64.28 350.61,64.73 350.67,65.29 350.46,65.87 350.63,66.38 350.74,66.45 350.71,67.61 350.68,67.54 350.75,68.27 350.90,68.83 351.02,69.25 351.00,70.20 351.12,70.96 351.31,70.93 351.18,71.69 351.31,72.09 351.46,72.47 351.37,72.92 351.55,73.81 351.62,73.96 351.58,74.84 351.41,75.53 351.71,75.45 351.77,76.53 351.71,76.85 351.64,76.97 351.75,78.13 351.71,78.33 351.77,79.02 352.03,79.69 351.86,79.82 351.81,80.42 352.12,81.19 351.91,81.37 351.96,81.88 352.27,82.28 352.29,83.33 352.32,83.24 352.39,84.33 352.46,84.11 352.22,84.84 352.46,85.46 352.39,86.14 352.65,86.64 352.68,87.09 352.81,87.21 352.80,87.78 352.77,88.79 352.92,88.96 352.98,89.67 353.00,90.22 353.06,90.98 353.17,91.34 353.36,91.58 353.36,92.04 353.58,92.68 353.59,92.97 353.69,93.42 353.72,94.31 353.81,94.76 353.92,94.97 354.15,95.87 354.17,96.60 354.18,96.62 354.24,97.12 354.34,97.63 354.41,98.27 354.53,98.69 354.75,99.16 354.92,100.06 354.85,100.61 354.90,100.53 355.26,100.99 355.04,102.17 355.14,102.51 355.42,102.68 355.49,103.78 355.70,103.71 355.88,104.61 356.00,104.60 356.33,105.12 356.26,105.55 356.72,106.41 356.81,107.01 357.05,107.35 357.02,108.13 357.07,108.38 357.48,109.06 357.65,109.80 357.88,110.08 358.12,110.02 358.36,110.57 358.50,111.08 358.78,111.67 359.23,112.36 359.52,112.45 359.70,113.36 359.87,113.83 360.11,114.24 360.70,114.68 361.02,114.87 361.23,115.27 361.71,115.56 361.96,116.24 362.26,116.30 362.60,116.70 363.03,116.97 363.46,117.24 363.89,117.51 364.31,117.79 364.74,118.06 365.17,118.33 365.60,118.60 366.11,118.67 366.62,118.75 367.14,118.83 367.65,118.90 368.16,118.97 368.68,119.05 369.19,119.12 369.70,119.20 370.21,119.21 370.72,119.22 371.23,119.23 371.74,119.24 372.25,119.25 372.75,119.25 373.26,119.26 373.77,119.27 374.28,119.28 374.79,119.29 375.30,119.30" fill="none" stroke="#000" stroke-width="1.3" stroke-linejoin="round"/>
<polyline points="452.00,120.00 453.20,119.90 454.40,119.80 455.10,119.00 455.80,118.20 456.50,117.40 457.20,116.60 457.78,116.04 458.37,115.45 458.90,114.71 459.24,113.66 460.04,113.06 460.57,111.96 460.99,111.32 461.47,110.78 461.79,109.75 462.33,109.47 462.92,108.16 463.40,107.37 463.81,106.59 464.10,106.33 464.62,105.10 465.14,104.62 465.24,103.75 465.61,102.61 465.82,101.86 466.25,100.94 466.61,99.53 466.76,98.50 467.00,97.50 467.26,96.94 467.38,96.06 467.69,94.87 468.03,94.05 468.10,93.12 468.42,91.89 468.71,90.93 468.86,90.57 468.87,89.60 469.09,88.51 469.12,87.20 469.30,86.90 469.44,85.82 469.77,85.01 469.74,83.66 469.92,83.01 469.93,82.05 470.25,81.19 470.17,80.31 470.29,78.95 470.53,78.41 470.56,77.48 470.71,76.11 470.75,75.07 470.78,74.11 471.05,73.77 471.01,72.16 471.34,71.56 471.27,70.42 471.41,69.90 471.45,68.68 471.43,68.09 471.50,66.86 471.81,65.67 471.86,65.31 471.97,64.26 471.95,63.07 472.09,62.41 472.26,61.20 472.58,60.53 472.70,59.31 472.70,58.56 472.78,57.32 472.84,56.29 472.91,55.95 473.16,54.77 473.11,53.64 473.08,52.66 473.36,52.15 473.32,51.16 473.52,50.17 473.57,49.29 473.57,48.32 473.63,47.24 473.85,46.45 473.80,45.70 473.98,44.52 473.88,43.56 474.03,42.72 474.17,41.91 474.30,40.98 474.29,39.96 474.48,39.17 474.45,38.27 474.68,37.25 474.78,36.52 474.73,35.31 474.71,34.61 475.01,33.44 475.02,32.70 475.11,31.40 475.20,30.77 475.25,29.74 475.35,29.01 475.47,27.98 475.41,26.60 475.64,25.96 475.69,25.00 475.92,23.57 475.99,22.71 477.08,21.64 477.65,22.68 478.11,23.57 478.52,22.82 478.90,21.96 479.13,21.18 479.19,21.82 479.40,22.80 479.49,24.08 479.70,24.51 479.90,25.53 480.01,26.69 480.10,28.11 480.24,28.72 480.31,29.86 480.26,30.50 480.40,31.78 480.58,33.05 480.56,33.61 480.71,34.35 480.58,35.65 480.81,36.25 480.91,37.67 480.93,38.25 480.98,39.05 481.28,40.02 481.37,41.29 481.35,41.73 481.55,42.80 481.49,43.57 481.74,44.59 481.62,45.53 481.64,46.59 481.81,47.31 481.98,48.63 481.84,49.37 481.99,50.60 482.20,51.07 482.13,51.96 482.41,53.01 482.38,54.08 482.47,55.12 482.57,55.73 482.64,56.79 482.64,57.75 482.64,58.82 482.76,59.64 482.90,60.73 482.77,61.43 482.95,62.82 483.14,63.50 482.96,64.59 483.15,65.39 483.29,66.36 483.29,67.49 483.33,68.06 483.53,68.85 483.44,70.23 483.47,71.16 483.73,71.79 483.70,72.96 483.96,73.43 483.93,74.63 484.02,75.40 484.01,76.50 484.28,77.06 484.20,78.50 484.45,79.31 484.32,80.28 484.67,81.39 484.68,81.64 484.81,82.68 484.84,84.12 485.05,84.47 485.12,85.95 485.27,86.67 485.54,87.28 485.78,88.13 485.83,89.30 486.01,90.00 486.34,91.41 486.62,91.91 486.68,92.97 487.07,94.04 487.51,94.90 487.60,96.07 487.97,96.96 488.42,98.10 488.77,98.84 489.03,99.74 489.56,100.68 490.16,101.04 490.61,102.01 491.28,102.68 491.80,103.81 492.16,104.62 492.69,105.04 493.46,105.83 494.17,106.72 494.65,107.66 495.20,108.32 495.84,108.64 496.73,109.73 497.20,109.97 498.09,111.00 498.73,111.27 499.35,112.06 499.93,112.68 501.03,113.12 501.97,113.40 503.09,114.18 504.09,114.45 505.10,114.96 506.03,115.45 507.07,115.78 508.00,116.30 508.80,116.74 509.60,117.18 510.40,117.62 511.20,118.06 512.00,118.50 513.00,118.93 514.00,119.37 515.00,119.80" fill="none" stroke="#a0a0a0" stroke-width="1.6" stroke-linejoin="round"/>
<polyline points="410.50,120.10 411.42,120.10 412.33,120.10 413.25,120.10 414.16,120.10 415.08,120.10 416.00,120.10 416.91,120.10 417.83,120.10 418.74,120.10 419.66,120.10 420.58,120.10 421.49,120.10 422.41,120.10 423.32,120.10 424.24,120.10 425.16,120.10 426.07,120.10 426.99,120.10 427.90,120.10 428.82,120.10 429.74,120.10 430.65,120.10 431.57,120.10 432.48,120.10 433.40,120.10 434.32,120.10 435.23,120.10 436.15,120.10 437.06,120.10 437.98,120.10 438.90,120.10 439.81,120.10 440.73,120.10 441.64,120.10 442.56,120.10 443.48,120.10 444.39,120.10 445.31,120.10 446.22,120.10 447.14,120.10 448.06,120.10 448.97,120.10 449.89,120.10 450.80,120.10 451.72,120.10 452.64,120.10 453.55,120.10 454.47,120.10 455.38,120.10 456.30,120.10 457.23,119.57 458.17,119.03 459.10,118.50 459.72,117.78 460.33,117.07 460.95,116.35 461.63,115.79 462.18,114.80 462.70,114.28 463.35,113.49 463.89,112.66 464.43,111.83 465.09,110.80 465.61,110.09 465.95,109.10 466.49,108.03 466.90,107.31 467.33,106.20 467.59,105.51 468.15,104.40 468.42,103.35 468.78,102.45 469.10,101.66 469.21,100.75 469.50,99.94 469.87,98.79 470.07,97.94 470.36,97.14 470.37,95.89 470.65,94.93 470.81,93.88 471.03,93.16 471.04,92.29 471.24,91.12 471.43,90.16 471.54,89.58 471.76,88.22 471.90,87.28 471.93,86.78 472.10,85.54 472.18,84.64 472.25,84.01 472.35,82.78 472.61,81.83 472.78,80.81 472.90,80.20 472.95,79.26 473.01,78.29 473.20,77.20 473.24,76.35 473.34,75.11 473.52,74.26 473.59,73.58 473.63,72.26 473.74,71.61 473.90,70.50 474.03,69.90 474.10,68.71 474.34,67.87 474.33,66.86 474.48,65.76 474.58,64.90 474.78,63.99 474.87,63.40 475.04,62.18 475.10,61.23 475.18,60.39 475.35,59.70 475.34,58.31 475.47,57.42 475.48,56.86 475.59,55.91 475.73,55.10 475.92,53.74 475.89,53.26 476.06,52.08 476.19,51.36 476.23,50.26 476.24,49.29 476.34,48.50 476.53,47.34 476.63,46.40 476.61,45.75 476.78,44.96 476.91,43.94 476.90,43.09 476.98,42.06 477.24,41.28 477.33,40.14 477.39,39.39 477.37,38.54 477.62,37.37 477.68,36.45 477.68,35.67 477.73,34.79 478.00,33.61 478.09,32.59 478.23,31.80 478.41,30.99 478.56,29.90 478.56,29.40 478.83,28.37 478.87,27.30 479.09,26.35 479.38,25.81 479.53,24.89 479.57,23.69 480.18,22.71 480.68,21.88 481.20,20.69 481.56,21.91 482.01,22.91 482.12,23.69 482.21,24.73 482.35,25.46 482.41,26.53 482.64,27.36 482.58,28.21 482.68,29.24 482.88,30.13 482.86,30.91 482.99,31.87 483.08,33.05 483.20,33.80 483.33,34.71 483.44,35.50 483.51,36.72 483.50,37.46 483.64,38.10 483.66,39.37 483.77,40.27 483.86,41.01 483.94,42.02 484.18,42.78 484.23,44.05 484.27,44.75 484.45,45.86 484.43,46.68 484.49,47.36 484.73,48.28 484.78,49.58 484.80,50.51 484.86,51.24 484.89,52.15 485.04,53.39 485.09,54.06 485.12,55.03 485.22,56.22 485.33,57.15 485.34,58.14 485.29,59.05 485.36,59.93 485.45,61.22 485.51,62.21 485.76,62.97 485.82,63.78 485.75,64.75 485.81,65.75 486.05,66.73 486.09,67.75 486.09,68.76 486.18,69.97 486.31,70.71 486.43,71.66 486.50,72.42 486.52,73.66 486.62,74.37 486.83,75.37 486.94,76.42 486.94,77.01 487.05,78.12 487.19,79.08 487.24,80.16 487.32,81.11 487.53,81.71 487.66,83.01 487.77,83.69 487.78,84.52 487.92,85.83 488.05,86.34 488.16,87.32 488.35,88.61 488.54,89.21 488.55,90.17 488.78,91.47 488.98,92.46 489.25,93.30 489.51,94.02 489.88,95.19 490.10,96.38 490.40,97.23 490.39,97.36 490.81,98.74 491.51,99.01 491.80,99.78 492.29,101.39 492.40,102.45 493.08,102.24 493.33,103.09 494.31,104.65 494.84,104.42 495.54,106.03 496.06,106.35 496.24,107.34 496.88,108.36 497.70,109.08 498.66,109.75 499.40,110.13 499.73,111.63 500.51,112.53 501.48,112.17 502.24,113.32 503.14,113.55 503.91,114.25 504.94,114.70 505.98,115.20 507.29,115.59 508.17,115.99 509.50,116.20 510.75,116.50 512.00,116.80 512.43,117.67 512.87,118.53 513.30,119.40 514.20,120.10 515.17,120.10 516.13,120.10 517.10,120.10" fill="none" stroke="#000" stroke-width="1.8" stroke-linejoin="round"/>
<rect x="142.8" y="125.5" width="229" height="2.4" fill="#000"/>
<polygon points="365.0,120.6 376.0,126.7 365.6,132.3 364.5,130.0 372.0,126.7 364.3,122.9" fill="#000"/>
<rect x="410.1" y="125.5" width="106" height="2.4" fill="#000"/>
<polygon points="509.8,121.2 520.2,126.7 510.2,132.2 509.2,130.0 516.2,126.7 509.0,123.4" fill="#000"/>
<text x="241.63" y="138.90" font-size="10.20" textLength="37.28" lengthAdjust="spacingAndGlyphs" font-weight="bold" fill="#000" stroke="#000" stroke-width="0.3">CellROX</text>
<text x="441.18" y="138.90" font-size="10.20" textLength="45.95" lengthAdjust="spacingAndGlyphs" font-weight="bold" fill="#000" stroke="#000" stroke-width="0.3">Maleimide</text>
<text x="0.15" y="178.20" font-size="12.90" textLength="9.47" lengthAdjust="spacingAndGlyphs" fill="#000" stroke="#000" stroke-width="0.46434782608695535">D</text>
<g stroke="#000" stroke-width="1.5" fill="none">
<line x1="37.85" y1="182.6" x2="37.85" y2="274.3"/><line x1="37.1" y1="273.6" x2="128.8" y2="273.6"/>
<line x1="34.2" y1="183.4" x2="37.85" y2="183.4"/>
<line x1="34.2" y1="213.5" x2="37.85" y2="213.5"/>
<line x1="34.2" y1="243.6" x2="37.85" y2="243.6"/>
<line x1="34.2" y1="273.6" x2="37.85" y2="273.6"/>
<line x1="49" y1="273.6" x2="49" y2="277"/>
<line x1="72" y1="273.6" x2="72" y2="277"/>
<line x1="95" y1="273.6" x2="95" y2="277"/>
<line x1="117.6" y1="273.6" x2="117.6" y2="277"/>
</g>
<text x="22.87" y="185.70" font-size="6.57" textLength="11.09" lengthAdjust="spacingAndGlyphs" fill="#000" stroke="#000" stroke-width="0.23657142857142974">600</text>
<text x="23.07" y="215.80" font-size="6.57" textLength="10.88" lengthAdjust="spacingAndGlyphs" fill="#000" stroke="#000" stroke-width="0.23657142857142974">400</text>
<text x="22.87" y="245.90" font-size="6.57" textLength="11.09" lengthAdjust="spacingAndGlyphs" fill="#000" stroke="#000" stroke-width="0.23657142857142974">200</text>
<text x="30.12" y="275.90" font-size="6.57" textLength="3.82" lengthAdjust="spacingAndGlyphs" fill="#000" stroke="#000" stroke-width="0.23657142857142682">0</text>
<text transform="translate(7.30,257.20) rotate(-90)" x="-0.42" y="0" font-size="8.70" textLength="62.24" lengthAdjust="spacingAndGlyphs" fill="#000" stroke="#000" stroke-width="0.3132">Catalase activey</text>
<text transform="translate(14.10,237.20) rotate(-90)" x="-0.49" y="0" font-size="8.60" textLength="29.22" lengthAdjust="spacingAndGlyphs" fill="#000" stroke="#000" stroke-width="0.3096">(mU/ml)</text>
<g stroke="#000" stroke-width="1.3" fill="none"><line x1="49.6" y1="182.5" x2="72.6" y2="182.5"/><line x1="49.6" y1="179.3" x2="49.6" y2="185.8"/><line x1="72.6" y1="179.3" x2="72.6" y2="185.8"/></g>
<g stroke="#000" stroke-width="0.85"><line x1="56.40" y1="175.60" x2="56.40" y2="180.20"/><line x1="54.41" y1="176.75" x2="58.39" y2="179.05"/><line x1="54.41" y1="179.05" x2="58.39" y2="176.75"/></g>
<g stroke="#000" stroke-width="0.85"><line x1="61.60" y1="175.60" x2="61.60" y2="180.20"/><line x1="59.61" y1="176.75" x2="63.59" y2="179.05"/><line x1="59.61" y1="179.05" x2="63.59" y2="176.75"/></g>
<g stroke="#000" stroke-width="0.85"><line x1="66.80" y1="175.60" x2="66.80" y2="180.20"/><line x1="64.81" y1="176.75" x2="68.79" y2="179.05"/><line x1="64.81" y1="179.05" x2="68.79" y2="176.75"/></g>
<g stroke="#000" fill="none" stroke-width="1.2"><line x1="41.800000000000004" y1="263.2" x2="56.6" y2="263.2" stroke-width="1.8"/><line x1="49.2" y1="261.5" x2="49.2" y2="265.2"/><line x1="46.2" y1="261.5" x2="52.2" y2="261.5"/><line x1="46.2" y1="265.2" x2="52.2" y2="265.2"/></g>
<rect x="41.95" y="262.05" width="3.1" height="3.1" fill="#000"/>
<rect x="44.45" y="262.75" width="3.1" height="3.1" fill="#000"/>
<rect x="47.95" y="259.65" width="3.1" height="3.1" fill="#000"/>
<rect x="50.45" y="262.75" width="3.1" height="3.1" fill="#000"/>
<rect x="46.45" y="261.25" width="3.1" height="3.1" fill="#000"/>
<g stroke="#000" fill="none" stroke-width="1.2"><line x1="64.6" y1="199.8" x2="79.4" y2="199.8" stroke-width="1.8"/><line x1="72" y1="196.1" x2="72" y2="204.3"/><line x1="69" y1="196.1" x2="75" y2="196.1"/><line x1="69" y1="204.3" x2="75" y2="204.3"/></g>
<rect x="64.65" y="198.64999999999998" width="3.1" height="3.1" fill="#000"/>
<rect x="67.95" y="200.75" width="3.1" height="3.1" fill="#000"/>
<rect x="70.45" y="202.04999999999998" width="3.1" height="3.1" fill="#000"/>
<rect x="73.25" y="198.75" width="3.1" height="3.1" fill="#000"/>
<rect x="76.25" y="200.04999999999998" width="3.1" height="3.1" fill="#000"/>
<rect x="70.45" y="187.54999999999998" width="3.1" height="3.1" fill="#000"/>
<g stroke="#000" fill="none" stroke-width="1.2"><line x1="87.6" y1="262.2" x2="102.4" y2="262.2" stroke-width="1.8"/><line x1="95" y1="260.6" x2="95" y2="264.8"/><line x1="92" y1="260.6" x2="98" y2="260.6"/><line x1="92" y1="264.8" x2="98" y2="264.8"/></g>
<rect x="88.75" y="260.45" width="3.1" height="3.1" fill="#000"/>
<rect x="97.05" y="260.84999999999997" width="3.1" height="3.1" fill="#000"/>
<rect x="99.45" y="260.65" width="3.1" height="3.1" fill="#000"/>
<g stroke="#000" fill="none" stroke-width="1.2"><line x1="110.19999999999999" y1="260.6" x2="125.0" y2="260.6" stroke-width="1.8"/><line x1="117.6" y1="257.6" x2="117.6" y2="262.0"/><line x1="114.6" y1="257.6" x2="120.6" y2="257.6"/><line x1="114.6" y1="262.0" x2="120.6" y2="262.0"/></g>
<rect x="111.65" y="259.25" width="3.1" height="3.1" fill="#000"/>
<rect x="119.25" y="259.45" width="3.1" height="3.1" fill="#000"/>
<path d="M115.4,256.8 L119.8,256.8 L117.6,259.8Z" fill="#000"/>
<path d="M92.8,264.2 L97.2,264.2 L95,267Z" fill="#000"/>
<text transform="translate(52.0,281.8) rotate(-45)" font-size="7.45" text-anchor="end" stroke="#000" stroke-width="0.28">CAR</text>
<text transform="translate(74.9,281.8) rotate(-45)" font-size="7.45" text-anchor="end" stroke="#000" stroke-width="0.28">CAR-CAT</text>
<text transform="translate(97.9,281.8) rotate(-45)" font-size="7.45" text-anchor="end" stroke="#000" stroke-width="0.28">Ctrl-CAR</text>
<text transform="translate(120.60000000000001,281.8) rotate(-45)" font-size="7.45" text-anchor="end" stroke="#000" stroke-width="0.28">NonTrans</text>
<text x="133.53" y="178.70" font-size="13.77" textLength="8.93" lengthAdjust="spacingAndGlyphs" fill="#000" stroke="#000" stroke-width="0.49565217391304345">E</text>
<path d="M199.8,177.3 L296.3,170.1 L296.3,177.3 Z" fill="#000"/>
<text x="229.24" y="168.80" font-size="6.20" textLength="5.03" lengthAdjust="spacingAndGlyphs" fill="#000" stroke="#000" stroke-width="0.22319999999999998">H</text>
<text x="233.60" y="170.20" font-size="4.60" textLength="2.20" lengthAdjust="spacingAndGlyphs" fill="#000" stroke="#000" stroke-width="0.16559999999999997">2</text>
<text x="235.72" y="168.80" font-size="6.20" textLength="4.77" lengthAdjust="spacingAndGlyphs" fill="#000" stroke="#000" stroke-width="0.22319999999999998">O</text>
<text x="240.39" y="170.20" font-size="4.60" textLength="2.32" lengthAdjust="spacingAndGlyphs" fill="#000" stroke="#000" stroke-width="0.16559999999999997">2</text>
<text x="245.15" y="168.80" font-size="6.20" textLength="15.54" lengthAdjust="spacingAndGlyphs" fill="#000" stroke="#000" stroke-width="0.22319999999999998">(µM)</text>
<text x="199.01" y="184.60" font-size="6.86" textLength="4.06" lengthAdjust="spacingAndGlyphs" fill="#000" stroke="#000" stroke-width="0.24685714285714197">0</text>
<text x="226.35" y="184.60" font-size="6.96" textLength="4.80" lengthAdjust="spacingAndGlyphs" fill="#000" stroke="#000" stroke-width="0.2504347826086948">5</text>
<text x="258.11" y="184.70" font-size="7.00" textLength="7.95" lengthAdjust="spacingAndGlyphs" fill="#000" stroke="#000" stroke-width="0.25199999999999884">50</text>
<text x="289.39" y="184.70" font-size="7.00" textLength="13.01" lengthAdjust="spacingAndGlyphs" fill="#000" stroke="#000" stroke-width="0.25199999999999884">500</text>
<line x1="219.3" y1="203.9" x2="219.3" y2="213.8" stroke="#000" stroke-width="1.2"/><line x1="217.4" y1="213.8" x2="221.20000000000002" y2="213.8" stroke="#000" stroke-width="1.3"/>
<rect x="216.20000000000002" y="187.6" width="6.2" height="16.3" fill="#7f7f7f" stroke="#000" stroke-width="1.1"/>
<line x1="228.3" y1="196.6" x2="228.3" y2="201.9" stroke="#000" stroke-width="1.2"/><line x1="226.4" y1="201.9" x2="230.20000000000002" y2="201.9" stroke="#000" stroke-width="1.3"/>
<rect x="225.20000000000002" y="187.6" width="6.2" height="9.0" fill="#000" stroke="#000" stroke-width="1.1"/>
<line x1="237.6" y1="207" x2="237.6" y2="223.8" stroke="#000" stroke-width="1.2"/><line x1="235.7" y1="223.8" x2="239.5" y2="223.8" stroke="#000" stroke-width="1.3"/>
<rect x="234.5" y="187.6" width="6.2" height="19.4" fill="#fff" stroke="#000" stroke-width="1.1"/>
<line x1="252.9" y1="227.5" x2="252.9" y2="228.8" stroke="#000" stroke-width="1.2"/><line x1="251.0" y1="228.8" x2="254.8" y2="228.8" stroke="#000" stroke-width="1.3"/>
<rect x="249.8" y="187.6" width="6.2" height="39.9" fill="#7f7f7f" stroke="#000" stroke-width="1.1"/>
<line x1="262.1" y1="193.4" x2="262.1" y2="195.7" stroke="#000" stroke-width="1.2"/><line x1="260.20000000000005" y1="195.7" x2="264.0" y2="195.7" stroke="#000" stroke-width="1.3"/>
<rect x="259.0" y="187.6" width="6.2" height="5.8" fill="#000" stroke="#000" stroke-width="1.1"/>
<line x1="270.9" y1="226.5" x2="270.9" y2="236.2" stroke="#000" stroke-width="1.2"/><line x1="269.0" y1="236.2" x2="272.79999999999995" y2="236.2" stroke="#000" stroke-width="1.3"/>
<rect x="267.79999999999995" y="187.6" width="6.2" height="38.9" fill="#fff" stroke="#000" stroke-width="1.1"/>
<line x1="287" y1="254.5" x2="287" y2="271.3" stroke="#000" stroke-width="1.2"/><line x1="285.1" y1="271.3" x2="288.9" y2="271.3" stroke="#000" stroke-width="1.3"/>
<rect x="283.9" y="187.6" width="6.2" height="66.9" fill="#7f7f7f" stroke="#000" stroke-width="1.1"/>
<line x1="295.7" y1="240" x2="295.7" y2="247.2" stroke="#000" stroke-width="1.2"/><line x1="293.8" y1="247.2" x2="297.59999999999997" y2="247.2" stroke="#000" stroke-width="1.3"/>
<rect x="292.59999999999997" y="187.6" width="6.2" height="52.4" fill="#000" stroke="#000" stroke-width="1.1"/>
<line x1="305.1" y1="255" x2="305.1" y2="272.7" stroke="#000" stroke-width="1.2"/><line x1="303.20000000000005" y1="272.7" x2="307.0" y2="272.7" stroke="#000" stroke-width="1.3"/>
<rect x="302.0" y="187.6" width="6.2" height="67.4" fill="#fff" stroke="#000" stroke-width="1.1"/>
<g stroke="#000" stroke-width="1.5" fill="none">
<line x1="177.4" y1="186.9" x2="177.4" y2="277.7"/><line x1="176.7" y1="186.9" x2="311.3" y2="186.9"/>
<line x1="174.2" y1="187.2" x2="177.4" y2="187.2"/>
<line x1="174.2" y1="217.2" x2="177.4" y2="217.2"/>
<line x1="174.2" y1="247.3" x2="177.4" y2="247.3"/>
<line x1="174.2" y1="277.3" x2="177.4" y2="277.3"/>
</g>
<text x="171.18" y="189.40" font-size="5.71" textLength="3.13" lengthAdjust="spacingAndGlyphs" fill="#000" stroke="#000" stroke-width="0.2057142857142857">0</text>
<text x="157.20" y="219.40" font-size="6.14" textLength="17.15" lengthAdjust="spacingAndGlyphs" fill="#000" stroke="#000" stroke-width="0.22114285714285628">-1000</text>
<text x="157.20" y="249.50" font-size="6.14" textLength="17.15" lengthAdjust="spacingAndGlyphs" fill="#000" stroke="#000" stroke-width="0.22114285714285628">-2000</text>
<text x="157.20" y="279.50" font-size="6.14" textLength="17.15" lengthAdjust="spacingAndGlyphs" fill="#000" stroke="#000" stroke-width="0.22114285714285772">-3000</text>
<text transform="translate(152.90,251.50) rotate(-90)" x="-0.35" y="0" font-size="8.60" textLength="47.73" lengthAdjust="spacingAndGlyphs" font-weight="bold" fill="#000" stroke="#000" stroke-width="0.18919999999999998">ΔCD3-ζ MFI</text>
<rect x="186.2" y="248.3" width="10.6" height="6.0" fill="#7f7f7f" stroke="#000" stroke-width="1.2"/>
<text x="201.22" y="253.90" font-size="7.83" textLength="16.14" lengthAdjust="spacingAndGlyphs" fill="#000" stroke="#000" stroke-width="0.28173913043478294">CAR</text>
<rect x="186.2" y="258.9" width="10.6" height="6.0" fill="#000" stroke="#000" stroke-width="1.2"/>
<text x="201.22" y="264.50" font-size="7.83" textLength="33.03" lengthAdjust="spacingAndGlyphs" fill="#000" stroke="#000" stroke-width="0.2817391304347814">CAR-CAT</text>
<rect x="186.2" y="269.4" width="10.6" height="6.0" fill="#fff" stroke="#000" stroke-width="1.2"/>
<text x="200.99" y="275.00" font-size="7.83" textLength="29.50" lengthAdjust="spacingAndGlyphs" fill="#000" stroke="#000" stroke-width="0.2817391304347814">NonTran</text>
<text x="331.72" y="178.90" font-size="13.91" textLength="8.98" lengthAdjust="spacingAndGlyphs" fill="#000" stroke="#000" stroke-width="0.500869565217391">F</text>
<g stroke="#000" stroke-width="1.5" fill="none">
<line x1="363.1" y1="179.6" x2="363.1" y2="271"/><line x1="362.4" y1="270.4" x2="498.8" y2="270.4"/>
<line x1="359.6" y1="180.1" x2="363.1" y2="180.1"/>
<line x1="359.6" y1="202.7" x2="363.1" y2="202.7"/>
<line x1="359.6" y1="225.3" x2="363.1" y2="225.3"/>
<line x1="359.6" y1="247.8" x2="363.1" y2="247.8"/>
<line x1="359.6" y1="270.4" x2="363.1" y2="270.4"/>
<line x1="380.8" y1="270.4" x2="380.8" y2="273.4"/>
<line x1="414.3" y1="270.4" x2="414.3" y2="273.4"/>
<line x1="448" y1="270.4" x2="448" y2="273.4"/>
<line x1="481.8" y1="270.4" x2="481.8" y2="273.4"/>
</g>
<text x="352.54" y="182.40" font-size="6.43" textLength="7.92" lengthAdjust="spacingAndGlyphs" fill="#000" stroke="#000" stroke-width="0.23142857142857143">20</text>
<text x="352.35" y="205.00" font-size="6.52" textLength="8.16" lengthAdjust="spacingAndGlyphs" fill="#000" stroke="#000" stroke-width="0.23478260869565218">15</text>
<text x="352.35" y="227.60" font-size="6.43" textLength="8.12" lengthAdjust="spacingAndGlyphs" fill="#000" stroke="#000" stroke-width="0.23142857142857143">10</text>
<text x="356.19" y="250.10" font-size="6.52" textLength="4.33" lengthAdjust="spacingAndGlyphs" fill="#000" stroke="#000" stroke-width="0.23478260869565218">5</text>
<text x="356.19" y="272.70" font-size="6.43" textLength="4.29" lengthAdjust="spacingAndGlyphs" fill="#000" stroke="#000" stroke-width="0.23142857142857143">0</text>
<text transform="translate(347.50,261.60) rotate(-90)" x="-0.34" y="0" font-size="9.40" textLength="70.77" lengthAdjust="spacingAndGlyphs" fill="#000" stroke="#000" stroke-width="0.3384">% Specific Lysis</text>
<text x="373.31" y="280.00" font-size="6.67" textLength="16.08" lengthAdjust="spacingAndGlyphs" fill="#000" stroke="#000" stroke-width="0.24000000000000118">0 µM</text>
<text x="402.29" y="280.00" font-size="6.67" textLength="24.78" lengthAdjust="spacingAndGlyphs" fill="#000" stroke="#000" stroke-width="0.24000000000000118">12.5 µM</text>
<text x="438.45" y="280.00" font-size="6.67" textLength="19.85" lengthAdjust="spacingAndGlyphs" fill="#000" stroke="#000" stroke-width="0.24000000000000118">25 µM</text>
<text x="472.42" y="280.00" font-size="6.67" textLength="19.36" lengthAdjust="spacingAndGlyphs" fill="#000" stroke="#000" stroke-width="0.24000000000000118">50 µM</text>
<text x="420.13" y="292.60" font-size="9.28" textLength="6.96" lengthAdjust="spacingAndGlyphs" fill="#000" stroke="#000" stroke-width="0.33391304347826267">H</text>
<text x="426.56" y="295.00" font-size="6.29" textLength="4.89" lengthAdjust="spacingAndGlyphs" fill="#000" stroke="#000" stroke-width="0.22628571428571312">2</text>
<text x="431.06" y="292.70" font-size="9.57" textLength="7.61" lengthAdjust="spacingAndGlyphs" fill="#000" stroke="#000" stroke-width="0.34434782608695474">O</text>
<text x="437.86" y="295.20" font-size="6.29" textLength="4.89" lengthAdjust="spacingAndGlyphs" fill="#000" stroke="#000" stroke-width="0.22628571428571312">2</text>
<g stroke="#999" stroke-width="1.1"><line x1="380.6" y1="206" x2="380.6" y2="217.5"/><line x1="378.3" y1="206" x2="382.90000000000003" y2="206"/><line x1="378.3" y1="217.5" x2="382.90000000000003" y2="217.5"/></g>
<g stroke="#999" stroke-width="1.1"><line x1="414.3" y1="214" x2="414.3" y2="226"/><line x1="412.0" y1="214" x2="416.6" y2="214"/><line x1="412.0" y1="226" x2="416.6" y2="226"/></g>
<g stroke="#999" stroke-width="1.1"><line x1="448" y1="226.8" x2="448" y2="236"/><line x1="445.7" y1="226.8" x2="450.3" y2="226.8"/><line x1="445.7" y1="236" x2="450.3" y2="236"/></g>
<g stroke="#999" stroke-width="1.1"><line x1="481.6" y1="236.5" x2="481.6" y2="240.5"/><line x1="479.3" y1="236.5" x2="483.90000000000003" y2="236.5"/><line x1="479.3" y1="240.5" x2="483.90000000000003" y2="240.5"/></g>
<polyline points="380.60,211.80 414.30,219.80 448.00,231.50 481.60,238.60" fill="none" stroke="#999" stroke-width="1.7" stroke-dasharray="4,2.5"/>
<polyline points="380.60,201.50 414.30,219.00 448.00,234.50 481.60,241.30" fill="none" stroke="#999" stroke-width="1.7"/>
<g stroke="#000" stroke-width="1.1"><line x1="380.6" y1="191.5" x2="380.6" y2="199"/><line x1="378.3" y1="191.5" x2="382.90000000000003" y2="191.5"/><line x1="378.3" y1="199" x2="382.90000000000003" y2="199"/></g>
<g stroke="#000" stroke-width="1.1"><line x1="414.3" y1="215" x2="414.3" y2="222.5"/><line x1="412.0" y1="215" x2="416.6" y2="215"/><line x1="412.0" y1="222.5" x2="416.6" y2="222.5"/></g>
<g stroke="#000" stroke-width="1.1"><line x1="448" y1="232.5" x2="448" y2="240.5"/><line x1="445.7" y1="232.5" x2="450.3" y2="232.5"/><line x1="445.7" y1="240.5" x2="450.3" y2="240.5"/></g>
<g stroke="#000" stroke-width="1.1"><line x1="481.6" y1="242.5" x2="481.6" y2="247.5"/><line x1="479.3" y1="242.5" x2="483.90000000000003" y2="242.5"/><line x1="479.3" y1="247.5" x2="483.90000000000003" y2="247.5"/></g>
<polyline points="380.60,196.60 414.30,219.20 448.00,237.20 481.60,245.40" fill="none" stroke="#000" stroke-width="2.1"/>
<g stroke="#000" stroke-width="1.1"><line x1="380.6" y1="184.7" x2="380.6" y2="193"/><line x1="378.3" y1="184.7" x2="382.90000000000003" y2="184.7"/><line x1="378.3" y1="193" x2="382.90000000000003" y2="193"/></g>
<g stroke="#000" stroke-width="1.1"><line x1="414.3" y1="196.9" x2="414.3" y2="209.6"/><line x1="412.0" y1="196.9" x2="416.6" y2="196.9"/><line x1="412.0" y1="209.6" x2="416.6" y2="209.6"/></g>
<g stroke="#000" stroke-width="1.1"><line x1="448" y1="204.3" x2="448" y2="213"/><line x1="445.7" y1="204.3" x2="450.3" y2="204.3"/><line x1="445.7" y1="213" x2="450.3" y2="213"/></g>
<g stroke="#000" stroke-width="1.1"><line x1="481.6" y1="216.5" x2="481.6" y2="228"/><line x1="479.3" y1="216.5" x2="483.90000000000003" y2="216.5"/><line x1="479.3" y1="228" x2="483.90000000000003" y2="228"/></g>
<polyline points="380.60,188.80 414.30,203.10 448.00,208.40 481.60,222.20" fill="none" stroke="#000" stroke-width="2.1"/>
<rect x="378.70000000000005" y="186.9" width="3.8" height="3.8" fill="#000"/>
<rect x="412.40000000000003" y="201.2" width="3.8" height="3.8" fill="#000"/>
<rect x="446.1" y="206.5" width="3.8" height="3.8" fill="#000"/>
<rect x="479.70000000000005" y="220.29999999999998" width="3.8" height="3.8" fill="#000"/>
<circle cx="380.6" cy="196.6" r="1.8" fill="#fff" stroke="#000" stroke-width="1.1"/>
<circle cx="414.3" cy="219.2" r="1.8" fill="#fff" stroke="#000" stroke-width="1.1"/>
<circle cx="448" cy="237.2" r="1.8" fill="#fff" stroke="#000" stroke-width="1.1"/>
<circle cx="481.6" cy="245.4" r="1.8" fill="#fff" stroke="#000" stroke-width="1.1"/>
<circle cx="380.6" cy="201.5" r="1.6" fill="#999"/>
<circle cx="414.3" cy="219" r="1.6" fill="#999"/>
<circle cx="448" cy="234.5" r="1.6" fill="#999"/>
<circle cx="481.6" cy="241.3" r="1.6" fill="#999"/>
<path d="M378.70000000000005,213.3 L382.5,213.3 L380.6,210.0Z" fill="#999"/>
<path d="M412.40000000000003,221.3 L416.2,221.3 L414.3,218.0Z" fill="#999"/>
<path d="M446.1,233.0 L449.9,233.0 L448,229.7Z" fill="#999"/>
<path d="M479.70000000000005,240.1 L483.5,240.1 L481.6,236.79999999999998Z" fill="#999"/>
<g stroke="#000" stroke-width="1.3"><line x1="488.4" y1="221.1" x2="488.4" y2="241.1"/><line x1="484.9" y1="221.1" x2="491.5" y2="221.1"/><line x1="484.9" y1="241.1" x2="491.5" y2="241.1"/></g>
<text x="493.6" y="234.8" font-size="8.5" font-weight="bold" text-anchor="middle">*</text>
<line x1="368.7" y1="231.3" x2="381" y2="231.3" stroke="#999" stroke-width="1.7"/>
<text x="385.02" y="233.60" font-size="7.25" textLength="16.14" lengthAdjust="spacingAndGlyphs" fill="#000" stroke="#000" stroke-width="0.2608695652173913">CAR</text>
<line x1="368.7" y1="241.6" x2="381" y2="241.6" stroke="#000" stroke-width="2"/>
<text x="385.01" y="244.20" font-size="7.25" textLength="33.84" lengthAdjust="spacingAndGlyphs" fill="#000" stroke="#000" stroke-width="0.2608695652173913">CAR-CAT</text>
<line x1="368.7" y1="252.3" x2="381" y2="252.3" stroke="#999" stroke-width="1.7" stroke-dasharray="3,1.6"/>
<text x="385.03" y="254.60" font-size="7.25" textLength="29.44" lengthAdjust="spacingAndGlyphs" fill="#000" stroke="#000" stroke-width="0.2608695652173913">Ctrl CAR</text>
<line x1="368.7" y1="262.4" x2="381" y2="262.4" stroke="#000" stroke-width="2"/>
<text x="384.78" y="265.00" font-size="7.25" textLength="33.78" lengthAdjust="spacingAndGlyphs" fill="#000" stroke="#000" stroke-width="0.2608695652173913">NonTrans</text>
<circle cx="375" cy="231.3" r="1.5" fill="#999"/>
<rect x="373.2" y="239.8" width="3.6" height="3.6" fill="#000"/>
<path d="M373.1,253.9 L376.9,253.9 L375,250.5Z" fill="#fff" stroke="#000" stroke-width="1"/>
<path d="M373.1,260.8 L376.9,260.8 L375,264.2Z" fill="#fff" stroke="#000" stroke-width="1"/>
</svg></body></html>
